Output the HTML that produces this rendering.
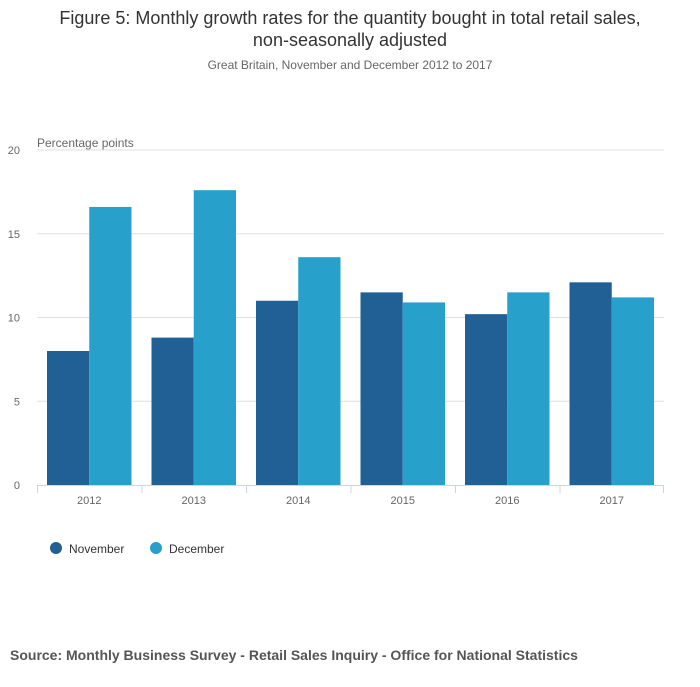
<!DOCTYPE html>
<html><head><meta charset="utf-8"><style>
body{margin:0;background:#fff;font-family:"Liberation Sans",sans-serif;}
</style></head><body>
<svg width="700" height="682" xmlns="http://www.w3.org/2000/svg">
<text x="350" y="24" text-anchor="middle" font-size="18" fill="#333">Figure 5: Monthly growth rates for the quantity bought in total retail sales,</text>
<text x="350" y="46" text-anchor="middle" font-size="18" fill="#333">non-seasonally adjusted</text>
<text x="350" y="69" text-anchor="middle" font-size="12" fill="#666">Great Britain, November and December 2012 to 2017</text>
<text x="37" y="147" font-size="12" fill="#666">Percentage points</text>
<g id="grid"></g><g id="bars"></g><g id="xaxis"></g>
<g>
<circle cx="56" cy="548" r="6" fill="#206095"/>
<text x="69" y="553" font-size="12" fill="#333">November</text>
<circle cx="156" cy="548" r="6" fill="#27a0cc"/>
<text x="169" y="553" font-size="12" fill="#333">December</text>
</g>
<text x="10" y="660" font-size="14" font-weight="bold" fill="#555">Source: Monthly Business Survey - Retail Sales Inquiry - Office for National Statistics</text>
</svg>
<script>
const categories=["2012","2013","2014","2015","2016","2017"];
const november=[8.0,8.8,11.0,11.5,10.2,12.1];
const december=[16.6,17.6,13.6,10.9,11.5,11.2];
const yTicks=[0,5,10,15,20];
const NS="http://www.w3.org/2000/svg";
const x0=37,x1=664,y0=485,y1=150,ymax=20;
const y=v=>y0-(y0-y1)*v/ymax;
const gw=(x1-x0)/categories.length;
function mk(t,a,p){const e=document.createElementNS(NS,t);for(const k in a)e.setAttribute(k,a[k]);p.appendChild(e);return e;}
const grid=document.getElementById('grid'),bars=document.getElementById('bars'),xa=document.getElementById('xaxis');
yTicks.forEach(t=>{
 if(t>0){const l=mk('line',{x1:x0,x2:x1,y1:y(t),y2:y(t),stroke:'#e0e0e0'},grid);
 
 }
 const tx=mk('text',{x:20,y:y(t)+4,'text-anchor':'end','font-size':11,fill:'#666'},grid);
 tx.textContent=t;
 
 
});
const ax=mk('line',{x1:x0,x2:x1,y1:y0+0.5,y2:y0+0.5,stroke:'#ccd6eb'},xa);


categories.forEach((c,i)=>{
 const gx=x0+i*gw;const bw=(gw-20)/2;
 const a=mk('rect',{x:gx+10,y:y(november[i]),width:bw,height:y0-y(november[i]),fill:'#206095'},bars);
 
 
 const b=mk('rect',{x:gx+10+bw,y:y(december[i]),width:bw,height:y0-y(december[i]),fill:'#27a0cc'},bars);
 
 
 const tk=mk('line',{x1:gx+0.5,x2:gx+0.5,y1:y0,y2:y0+8,stroke:'#ccd6eb'},xa);
 
 
 const tx=mk('text',{x:gx+gw/2,y:y0+19,'text-anchor':'middle','font-size':11,fill:'#666'},xa);
 tx.textContent=c;
 
 
});
const te=mk('line',{x1:x1-0.5,x2:x1-0.5,y1:y0,y2:y0+8,stroke:'#ccd6eb'},xa);


</script>
</body></html>
